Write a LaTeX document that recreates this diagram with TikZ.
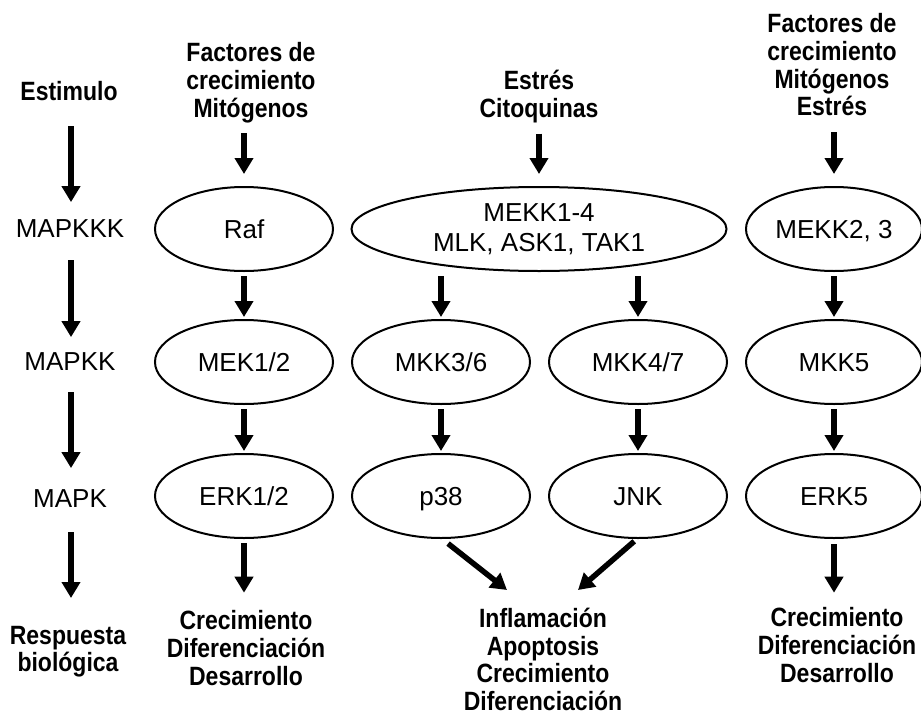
\documentclass[tikz,border=0pt]{standalone}
\usepackage{fontspec}
\usepackage{graphicx}
\setmainfont{Liberation Sans}
\usetikzlibrary{shapes.geometric,arrows.meta}
\newcommand\bl[1]{\scalebox{1}[1.15]{#1}}
\begin{document}
\begin{tikzpicture}[x=1pt,y=-1pt,
  arr/.style={line width=5.5pt,-{Triangle[length=16pt,width=18pt]}},
  oval/.style={ellipse,draw,line width=2pt,outer sep=0pt,inner sep=0pt,
    minimum width=178pt,minimum height=84pt,font=\fontsize{26}{30}\selectfont,
    text height=18.6pt,text depth=0pt},
  hd/.style={inner sep=0pt,outer sep=0pt,align=center,font=\fontsize{23}{27.7}\selectfont\bfseries},
  lvl/.style={inner sep=0pt,outer sep=0pt,anchor=base,font=\fontsize{26}{30}\selectfont}]
\useasboundingbox (0,0) rectangle (921,715);
% left column labels
\node[hd,anchor=base] (estim) at (69,100) {\bl{Estimulo}};
\node[lvl] (mkkk) at (70,237) {MAPKKK};
\node[lvl] (mkk) at (70,370) {MAPKK};
\node[lvl] (mk) at (70,507) {MAPK};
\node[hd,anchor=north] (resp) at (68,626) {\bl{Respuesta}\\\bl{biológica}};
\draw[arr,shorten <=26pt,shorten >=17pt] (estim.south -| 71,0) -- (mkkk.north -| 71,0);
\draw[arr,shorten <=23pt,shorten >=15pt] (mkkk.south -| 71,0) -- (mkk.north -| 71,0);
\draw[arr,shorten <=22pt,shorten >=21pt] (mkk.south -| 71,0) -- (mk.north -| 71,0);
\draw[arr,shorten <=25pt,shorten >=28pt] (mk.south -| 71,0) -- (resp.north -| 71,0);
% headers
\node[hd,anchor=north] (h1) at (251,42.7) {\bl{Factores de}\\\bl{crecimiento}\\\bl{Mitógenos}};
\node[hd,anchor=north] (h2) at (539,70.5) {\bl{Estrés}\\\bl{Citoquinas}};
\node[hd,anchor=north] (h3) at (832,13.7) {\bl{Factores de}\\\bl{crecimiento}\\\bl{Mitógenos}\\\bl{Estrés}};
% ellipses
\node[oval] (raf) at (244,229) {Raf};
\node[oval] (mek) at (244,362) {MEK1/2};
\node[oval] (erk) at (244,496) {ERK1/2};
\node[oval,minimum width=375pt,text height=,text depth=,align=center] (mekk) at (539,229) {MEKK1-4\\MLK, ASK1, TAK1};
\node[oval] (mkk36) at (441,362) {MKK3/6};
\node[oval] (p38) at (441,496) {p38};
\node[oval] (mkk47) at (638,362) {MKK4/7};
\node[oval] (jnk) at (638,496) {JNK};
\node[oval,minimum width=176pt] (mekk23) at (834,229) {MEKK2, 3};
\node[oval,minimum width=176pt] (mkk5) at (834,362) {MKK5};
\node[oval,minimum width=176pt] (erk5) at (834,496) {ERK5};
% outputs
\node[hd,anchor=north] (out1) at (246,610.7) {\bl{Crecimiento}\\\bl{Diferenciación}\\\bl{Desarrollo}};
\node[hd,anchor=north] (out2) at (543,608) {\bl{Inflamación}\\\bl{Apoptosis}\\\bl{Crecimiento}\\\bl{Diferenciación}};
\node[hd,anchor=north] (out3) at (837,607.7) {\bl{Crecimiento}\\\bl{Diferenciación}\\\bl{Desarrollo}};
\coordinate (c1) at (507,590);
\coordinate (c2) at (578,590);
% arrows
\draw[arr,shorten <=10.5pt,shorten >=13pt] (raf |- h1.south) -- (raf.north);
\draw[arr,shorten <=10.5pt,shorten >=13pt] (mekk |- h2.south) -- (mekk.north);
\draw[arr,shorten <=16pt,shorten >=13pt] (mekk23 |- h3.south) -- (mekk23.north);
\draw[arr,shorten <=5pt,shorten >=3pt] (raf.south) -- (mek.north);
\draw[arr,shorten <=5pt,shorten >=3pt] (mek.south) -- (erk.north);
\draw[arr,shorten <=5pt,shorten >=3pt] (mkk36 |- mekk.south) -- (mkk36.north);
\draw[arr,shorten <=5pt,shorten >=3pt] (mkk47 |- mekk.south) -- (mkk47.north);
\draw[arr,shorten <=5pt,shorten >=3pt] (mkk36.south) -- (p38.north);
\draw[arr,shorten <=5pt,shorten >=3pt] (mkk47.south) -- (jnk.north);
\draw[arr,shorten <=5pt,shorten >=3pt] (mekk23.south) -- (mkk5.north);
\draw[arr,shorten <=5pt,shorten >=3pt] (mkk5.south) -- (erk5.north);
\draw[arr,shorten <=5pt,shorten >=18pt] (erk.south) -- (out1.north -| erk);
\draw[arr,shorten <=6pt,shorten >=15pt] (erk5.south) -- (out3.north -| erk5);
\draw[arr,shorten <=9pt] (p38.south) -- (c1);
\draw[arr,shorten <=5pt] (jnk.south) -- (c2);
\end{tikzpicture}
\end{document}
